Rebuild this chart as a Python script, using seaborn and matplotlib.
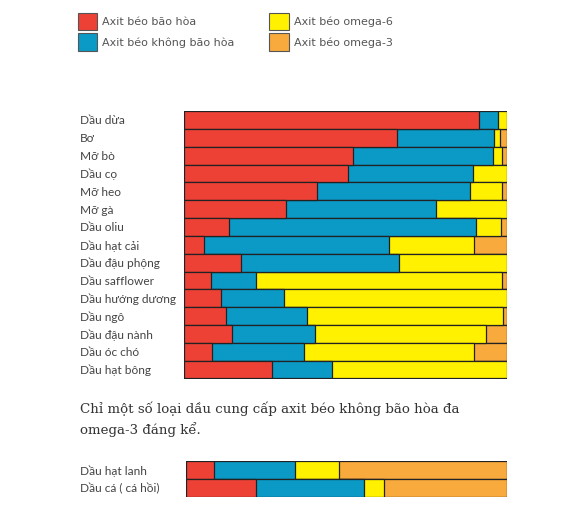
import pandas as pd
import matplotlib.pyplot as plt
import seaborn as sns
from matplotlib.patches import Patch

# Fat composition (% of total fat)
oils = ["Dầu dừa", "Bơ", "Mỡ bò", "Dầu cọ", "Mỡ heo", "Mỡ gà", "Dầu oliu",
        "Dầu hạt cải", "Dầu đậu phộng", "Dầu safflower", "Dầu hướng dương",
        "Dầu ngô", "Dầu đậu nành", "Dầu óc chó", "Dầu hạt bông"]
saturated = [91.4, 65.9, 52.2, 50.8, 41.1, 31.6, 13.8, 6.2, 17.7, 8.5, 11.5, 13.1, 15.0, 8.7, 27.3]
unsaturated = [5.7, 30.2, 43.6, 38.6, 47.4, 46.3, 76.5, 57.4, 48.8, 13.8, 19.6, 24.9, 25.5, 28.6, 18.4]
omega6 = [2.9, 1.7, 2.6, 10.6, 9.9, 22.1, 7.8, 26.2, 33.5, 76.2, 68.9, 60.7, 53.0, 52.6, 54.3]
omega3 = [0.0, 2.2, 1.6, 0.0, 1.6, 0.0, 1.9, 10.2, 0.0, 1.5, 0.0, 1.3, 6.5, 10.1, 0.0]

oils2 = ["Dầu hạt lanh", "Dầu cá ( cá hồi)"]
saturated2 = [8.8, 21.9]
unsaturated2 = [25.3, 33.4]
omega6_2 = [13.7, 6.5]
omega3_2 = [52.2, 38.2]

legend_labels = ["Axit béo bão hòa", "Axit béo không bão hòa",
                 "Axit béo omega-6", "Axit béo omega-3"]
colors = ["#EE4136", "#0B9AC6", "#FFF100", "#F9AA3C"]

heading = "Chỉ một số loại dầu cung cấp axit béo không bão hòa đa\nomega-3 đáng kể."

sns.set_theme(style="white")
plt.rcParams['font.family'] = ['Lato', 'Noto Sans', 'DejaVu Sans']
label_color = "#444444"


def stacked(ax, names, parts):
    df = pd.DataFrame({"oil": names})
    cum = pd.Series([0.0] * len(names))
    cols = []
    for i, p in enumerate(parts):
        cum = cum + pd.Series(p)
        df[f"c{i}"] = cum.values
        cols.append(f"c{i}")
    # draw from the largest cumulative value down so each layer shows
    for col, color in reversed(list(zip(cols, colors))):
        sns.barplot(data=df, x=col, y="oil", color=color, width=1.0,
                    edgecolor="#222222", linewidth=0.9, orient="h", ax=ax,
                    saturation=1)
    ax.set_xlim(0, 100)
    ax.set_ylim(len(names) - 0.5, -0.5)
    ax.set_xlabel("")
    ax.set_ylabel("")
    ax.set_xticks([])
    for s in ax.spines.values():
        s.set_visible(False)
    ax.tick_params(axis="y", length=0, labelsize=8.6, labelcolor=label_color)
    for t in ax.get_yticklabels():
        t.set_horizontalalignment("left")


fig = plt.figure(figsize=(5.8, 5.22), dpi=100)

ax1 = fig.add_axes([184 / 580, 1 - 378.5 / 522, 323 / 580, 267.5 / 522])
stacked(ax1, oils, [saturated, unsaturated, omega6, omega3])
ax1.tick_params(axis="y", pad=75)

ax2 = fig.add_axes([186 / 580, 1 - 497 / 522, 321 / 580, 36 / 522])
stacked(ax2, oils2, [saturated2, unsaturated2, omega6_2, omega3_2])
ax2.tick_params(axis="y", pad=76.5)

fig.text(80 / 580, 1 - 401 / 522, heading, fontsize=9.6, color="#333333",
         family=["DejaVu Serif"], va="top", linespacing=1.55)

handles = [Patch(facecolor=c, edgecolor="#555555", linewidth=0.8) for c in colors]
fig.legend(handles, legend_labels, ncol=2, loc="upper left",
           bbox_to_anchor=(69 / 580, 1 - 4 / 522), frameon=False,
           prop={"family": ["DejaVu Sans"], "size": 8.0},
           labelcolor="#555555", handlelength=1.75,
           handleheight=2.0, handletextpad=0.45, labelspacing=0.3,
           columnspacing=3.1, borderpad=0.3)

fig.savefig("out.png", dpi=100)
